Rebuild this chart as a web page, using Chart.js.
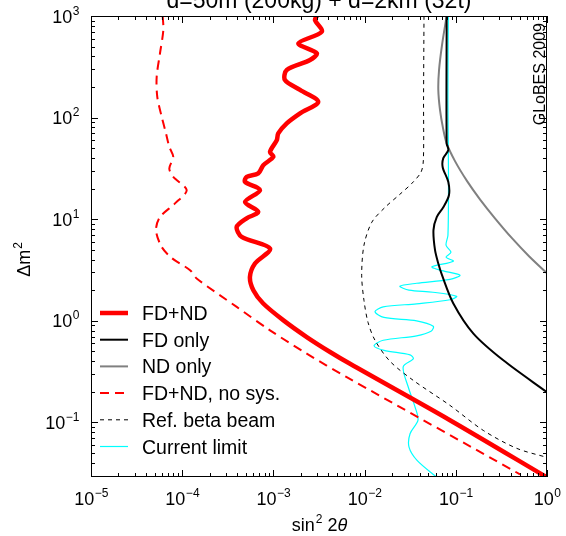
<!DOCTYPE html>
<html>
<head>
<meta charset="utf-8">
<script src="https://cdn.jsdelivr.net/npm/chart.js@4.4.0/dist/chart.umd.min.js"></script>
<style>
  html, body { margin: 0; padding: 0; background: #fff; }
</style>
</head>
<body>
<canvas id="chart" width="566" height="536"></canvas>
<script>
const titleText = 'd=50m (200kg) + d=2km (32t)';
const xTickExps = [-5, -4, -3, -2, -1, 0];
const yTickExps = [-1, 0, 1, 2, 3];

// FD+ND (thick red)
const fdNdSin = [0.00299, 0.00286, 0.00339, 0.00188, 0.00299, 0.00252, 0.00140, 0.00134, 0.00196, 0.00310, 0.00196, 0.00140, 0.00113, 0.00109, 0.000918, 0.000998, 0.000774, 0.000682, 0.000509, 0.000489, 0.000713, 0.000489, 0.000682, 0.000509, 0.000396, 0.000449, 0.000918, 0.000628, 0.000553, 0.000603, 0.000774, 0.00129, 0.00232, 0.00418, 0.00692, 0.0863, 1];
const fdNdDm2 = [1000, 914, 700, 538, 430, 369, 294, 234, 187, 143, 110, 87.7, 69.8, 60.0, 46.0, 41.1, 34.0, 28.2, 26.1, 23.3, 19.3, 14.8, 11.8, 10.2, 8.40, 6.70, 5.14, 3.66, 2.70, 2.00, 1.48, 1.01, 0.692, 0.493, 0.377, 0.105, 0.0287];

// FD only
const fdSin = [0.0794, 0.0794, 0.0828, 0.0729, 0.0718, 0.0828, 0.0841, 0.0729, 0.0618, 0.0569, 0.0592, 0.0643, 0.0706, 0.0940, 0.156, 0.332, 1];
const fdDm2 = [1000, 55.7, 47.9, 39.9, 32.5, 23.2, 17.2, 13.1, 10.5, 7.80, 4.95, 3.66, 2.81, 1.48, 0.748, 0.408, 0.198];

// ND only
const ndSin = [0.0794, 0.0706, 0.0655, 0.0643, 0.0671, 0.0724, 0.0794, 0.098, 0.133, 0.184, 0.269, 0.413, 0.635, 1];
const ndDm2 = [1000, 518, 294, 187, 119, 78.8, 55.7, 37.3, 23.7, 15.7, 10.2, 6.50, 4.32, 2.94];

// FD+ND, no systematics
const noSysSin = [6.11e-5, 6.21e-5, 5.71e-5, 5.25e-5, 5.33e-5, 5.96e-5, 6.64e-5, 7.22e-5, 7.98e-5, 7.22e-5, 7.98e-5, 1.12e-4, 8.34e-5, 5.71e-5, 5.16e-5, 5.96e-5, 7.73e-5, 1.22e-4, 1.44e-4, 3.96e-4, 9.18e-4, 0.00232, 0.00637, 0.506];
const noSysDm2 = [1000, 728, 430, 252, 160, 102, 69.8, 51.5, 41.1, 31.6, 26.1, 19.3, 14.3, 10.5, 7.80, 5.33, 4.13, 3.15, 2.61, 1.37, 0.806, 0.475, 0.279, 0.0308];

// Reference beta beam
const betaSin = [0.0448, 0.0443, 0.0441, 0.0415, 0.0331, 0.0244, 0.0168, 0.0120, 0.00984, 0.00929, 0.00984, 0.0109, 0.0130, 0.0190, 0.0342, 0.0863, 0.200, 0.466, 1];
const betaDm2 = [1000, 149, 38.1, 29.0, 22.6, 17.6, 13.1, 9.34, 5.54, 2.81, 1.59, 0.966, 0.643, 0.399, 0.259, 0.147, 0.0834, 0.0555, 0.0452];

// Current limit
const curSin = [0.0828, 0.0820, 0.0832, 0.0820, 0.0782, 0.0885, 0.0782, 0.0940, 0.0548, 0.0671, 0.111, 0.0863, 0.0372, 0.0244, 0.0307, 0.0562, 0.102, 0.0863, 0.0372, 0.0160, 0.0130, 0.0163, 0.0372, 0.0566, 0.0535, 0.0372, 0.0160, 0.0127, 0.0163, 0.0315, 0.0342, 0.0265, 0.0301, 0.0357, 0.0385, 0.0315, 0.0307, 0.0376, 0.0622];
const curDm2 = [1000, 149, 24.2, 6.95, 5.54, 4.73, 4.23, 3.86, 3.40, 3.15, 2.81, 2.56, 2.34, 2.19, 2.00, 1.91, 1.74, 1.61, 1.47, 1.37, 1.23, 1.08, 1.00, 0.883, 0.789, 0.711, 0.643, 0.568, 0.512, 0.462, 0.423, 0.352, 0.223, 0.142, 0.105, 0.0774, 0.0571, 0.0423, 0.0287];

function pts(xs, ys) {
    return xs.map((v, i) => ({ x: v, y: ys[i] }));
}

const FONT = '"Liberation Sans", Arial, sans-serif';

// draws "10" with a superscript exponent, anchored by align
function drawPow(ctx, exp, px, baseY, align) {
    const expText = exp < 0 ? '\u2212' + Math.abs(exp) : String(exp);
    ctx.font = '18px ' + FONT;
    const wb = ctx.measureText('10').width;
    ctx.font = '12px ' + FONT;
    const we = ctx.measureText(expText).width;
    let x0 = px - (wb + we) / 2;
    if (align === 'right') x0 = px - wb - we;
    ctx.textAlign = 'left';
    ctx.font = '18px ' + FONT;
    ctx.fillText('10', x0, baseY);
    ctx.font = '12px ' + FONT;
    ctx.fillText(expText, x0 + wb + 0.5, baseY - 8);
}

const decorations = {
    id: 'decorations',
    afterDraw(chart) {
        const { ctx, chartArea: a, scales: { x, y } } = chart;
        ctx.save();
        ctx.fillStyle = '#000';
        ctx.strokeStyle = '#000';
        ctx.lineWidth = 1;
        ctx.setLineDash([]);

        // frame
        ctx.strokeRect(a.left + 0.5, a.top + 0.5, a.right - a.left - 1, a.bottom - a.top - 1);

        // log ticks on all four sides
        ctx.beginPath();
        for (let e = xTickExps[0]; e <= xTickExps[xTickExps.length - 1]; e++) {
            for (let k = 1; k <= 9; k++) {
                const v = k * Math.pow(10, e);
                if (v > 1.0001) break;
                const px = Math.round(x.getPixelForValue(v)) + 0.5;
                const len = k === 1 ? 7 : 4;
                ctx.moveTo(px, a.bottom); ctx.lineTo(px, a.bottom - len);
                ctx.moveTo(px, a.top); ctx.lineTo(px, a.top + len);
            }
        }
        for (let e = -2; e <= 3; e++) {
            for (let k = 1; k <= 9; k++) {
                const v = k * Math.pow(10, e);
                if (v < y.min || v > y.max * 1.0001) continue;
                const py = Math.round(y.getPixelForValue(v)) + 0.5;
                const len = k === 1 ? 7 : 4;
                ctx.moveTo(a.left, py); ctx.lineTo(a.left + len, py);
                ctx.moveTo(a.right, py); ctx.lineTo(a.right - len, py);
            }
        }
        ctx.stroke();

        // tick labels
        ctx.textBaseline = 'alphabetic';
        xTickExps.forEach(e => drawPow(ctx, e, x.getPixelForValue(Math.pow(10, e)), a.bottom + 28, 'center'));
        yTickExps.forEach(e => drawPow(ctx, e, a.left - 12, y.getPixelForValue(Math.pow(10, e)) + 6.5, 'right'));

        // x axis title: sin^2 2θ
        ctx.font = '18px ' + FONT;
        const w1 = ctx.measureText('sin').width;
        ctx.font = '12px ' + FONT;
        const w2 = ctx.measureText('2').width;
        ctx.font = '18px ' + FONT;
        const w3 = ctx.measureText(' 2').width;
        ctx.font = 'italic 18px ' + FONT;
        const w4 = ctx.measureText('\u03b8').width;
        let sx = (a.left + a.right) / 2 - (w1 + w2 + w3 + w4) / 2;
        const sy = a.bottom + 54;
        ctx.textAlign = 'left';
        ctx.font = '18px ' + FONT;
        ctx.fillText('sin', sx, sy);
        ctx.font = '12px ' + FONT;
        ctx.fillText('2', sx + w1 + 1, sy - 8);
        ctx.font = '18px ' + FONT;
        ctx.fillText(' 2', sx + w1 + w2 + 1, sy);
        ctx.font = 'italic 18px ' + FONT;
        ctx.fillText('\u03b8', sx + w1 + w2 + w3 + 1, sy);

        // y axis title: Δm^2
        ctx.save();
        ctx.translate(30, 260);
        ctx.rotate(-Math.PI / 2);
        ctx.font = '18px ' + FONT;
        const wd = ctx.measureText('\u0394m').width;
        ctx.font = '12px ' + FONT;
        const we2 = ctx.measureText('2').width;
        const ty0 = -(wd + we2) / 2;
        ctx.font = '18px ' + FONT;
        ctx.fillText('\u0394m', ty0, 0);
        ctx.font = '12px ' + FONT;
        ctx.fillText('2', ty0 + wd + 1, -8);
        ctx.restore();

        // title, mostly cut off at the top edge
        ctx.font = '23px ' + FONT;
        ctx.textAlign = 'center';
        ctx.fillText(titleText, (a.left + a.right) / 2, 8);

        // GLoBES watermark
        ctx.save();
        ctx.translate(a.right - 2, a.top + 7);
        ctx.rotate(-Math.PI / 2);
        ctx.font = '16px ' + FONT;
        ctx.textAlign = 'right';
        ctx.fillText('GLoBES 2009', 0, 0);
        ctx.restore();

        // legend
        chart.data.datasets.forEach((ds, i) => {
            const ly = a.top + 297 + i * 26.7;
            ctx.beginPath();
            ctx.strokeStyle = ds.borderColor;
            ctx.lineWidth = ds.borderWidth;
            ctx.setLineDash(ds.borderDash || []);
            ctx.moveTo(a.left + 9, ly);
            ctx.lineTo(a.left + 37, ly);
            ctx.stroke();
            ctx.setLineDash([]);
            ctx.fillStyle = '#000';
            ctx.font = '19.5px ' + FONT;
            ctx.textAlign = 'left';
            ctx.fillText(ds.label, a.left + 51, ly + 7);
        });

        ctx.restore();
    }
};

new Chart(document.getElementById('chart').getContext('2d'), {
    type: 'scatter',
    data: {
        datasets: [
            { label: 'FD+ND', data: pts(fdNdSin, fdNdDm2), borderColor: '#ff0000', borderWidth: 4.5 },
            { label: 'FD only', data: pts(fdSin, fdDm2), borderColor: '#000000', borderWidth: 2 },
            { label: 'ND only', data: pts(ndSin, ndDm2), borderColor: '#808080', borderWidth: 2 },
            { label: 'FD+ND, no sys.', data: pts(noSysSin, noSysDm2), borderColor: '#ff0000', borderWidth: 2, borderDash: [9, 6] },
            { label: 'Ref. beta beam', data: pts(betaSin, betaDm2), borderColor: '#000000', borderWidth: 1, borderDash: [4, 4] },
            { label: 'Current limit', data: pts(curSin, curDm2), borderColor: '#00ffff', borderWidth: 1.2 }
        ].map(ds => Object.assign(ds, { showLine: true, pointRadius: 0, tension: 0.3, fill: false }))
    },
    options: {
        responsive: false,
        animation: false,
        devicePixelRatio: 1,
        layout: { padding: { left: 91, right: 19, top: 16, bottom: 59 } },
        plugins: { legend: { display: false }, tooltip: { enabled: false } },
        scales: {
            x: { type: 'logarithmic', min: 1e-5, max: 1, display: false },
            y: { type: 'logarithmic', min: 0.029, max: 1000, display: false }
        }
    },
    plugins: [decorations]
});
</script>
</body>
</html>
